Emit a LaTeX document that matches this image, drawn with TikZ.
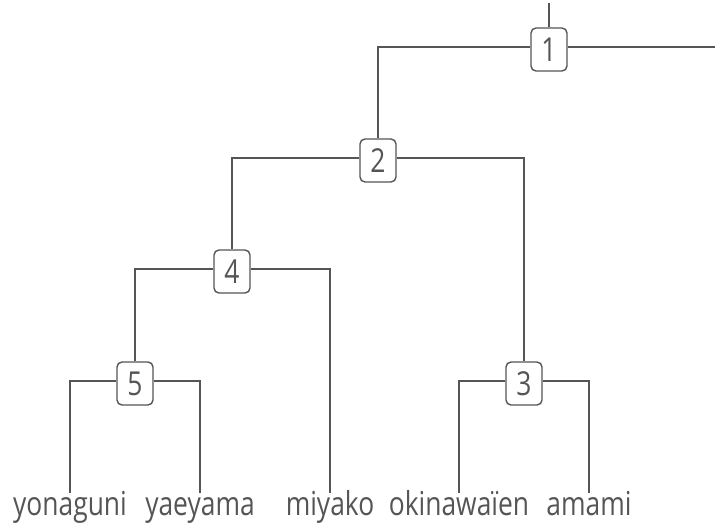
\documentclass[tikz,border=0pt]{standalone}
\usepackage{fontspec}
\setmainfont[FakeStretch=0.8]{Open Sans}
\definecolor{ink}{HTML}{555555}
\begin{document}
\begin{tikzpicture}[x=1pt,y=-1pt,
  every node/.style={text=ink,font=\fontsize{33}{36}\selectfont},
  num/.style={draw=ink,line width=1.4pt,rounded corners=5pt,minimum width=36pt,minimum height=43pt,inner sep=0pt,fill=white},
  leaf/.style={anchor=base,inner sep=0pt,text height=22pt},
  conn/.style={draw=ink,line width=1.4pt}]
\useasboundingbox (0,0) rectangle (715,527);
\node[num] (n1) at (549,49.5) {1};
\node[num] (n2) at (378,160.5) {2};
\node[num] (n4) at (232,271.5) {4};
\node[num] (n5) at (135,383.5) {5};
\node[num] (n3) at (524,383.5) {3};
\node[leaf] (l1) at (70,515) {yonaguni};
\node[leaf] (l2) at (200,515) {yaeyama};
\node[leaf] (l3) at (330,515) {miyako};
\node[leaf] (l4) at (459,515) {okinawaïen};
\node[leaf] (l5) at (589,515) {amami};
\coordinate (top) at (549,3);
\coordinate (rt) at (715,47);
\draw[conn] (top) -- (n1.north);
\draw[conn] ([yshift=2.5pt]n1.east) -- (rt);
\draw[conn] ([yshift=2.5pt]n1.west) -| (n2.north);
\draw[conn] ([yshift=2.5pt]n2.west) -| (n4.north);
\draw[conn] ([yshift=2.5pt]n2.east) -| (n3.north);
\draw[conn] ([yshift=2.5pt]n4.west) -| (n5.north);
\draw[conn] ([yshift=2.5pt]n4.east) -| (l3.north);
\draw[conn] ([yshift=2.5pt]n5.west) -| (l1.north);
\draw[conn] ([yshift=2.5pt]n5.east) -| (l2.north);
\draw[conn] ([yshift=2.5pt]n3.west) -| (l4.north);
\draw[conn] ([yshift=2.5pt]n3.east) -| (l5.north);
\end{tikzpicture}
\end{document}
